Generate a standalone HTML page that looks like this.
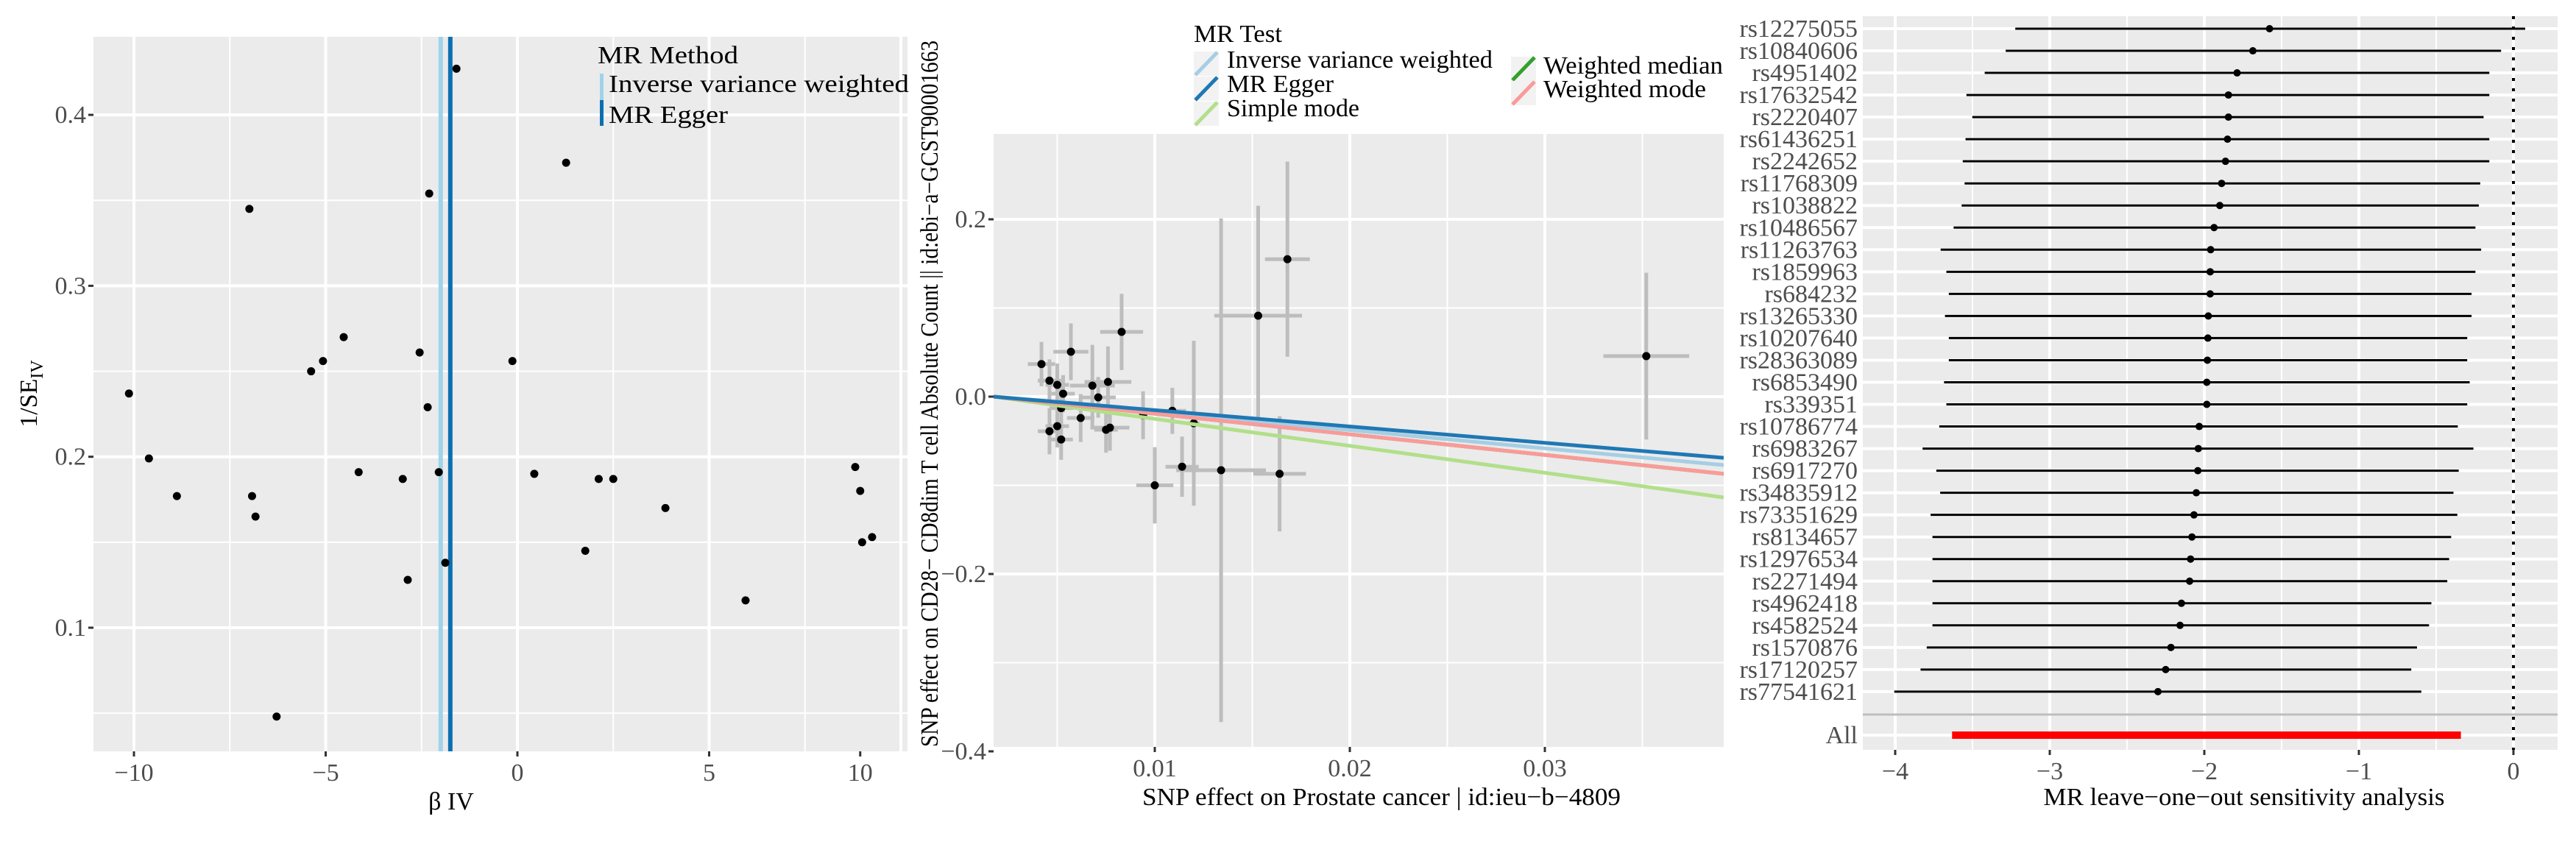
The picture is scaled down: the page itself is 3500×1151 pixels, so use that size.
<!DOCTYPE html>
<html><head><meta charset="utf-8">
<style>
html,body{margin:0;padding:0;background:#fff;}
svg{display:block;font-family:"Liberation Serif",serif;}
.tick{fill:#4d4d4d;font-size:34px;}
.ttl{fill:#000;font-size:34px;}
</style></head>
<body>
<svg id="fig" width="3500" height="1151" viewBox="0 0 3500 1151" xmlns="http://www.w3.org/2000/svg">
<g id="p1"></g>
<g id="p2"></g>
<g id="p3"></g>
</svg>
<script>
// ---------- Panel 1: funnel plot data ----------
const funnelBeta = [-1.59,1.27,-2.30,-6.99,-4.53,-2.55,-0.13,-5.07,-5.38,-10.13,-2.34,-9.61,-4.14,-2.05,0.44,-2.99,2.12,2.50,8.81,-8.88,-6.92,-6.83,8.94,3.86,9.25,8.99,1.77,-1.88,-2.86,5.95,-6.28];
const funnelInvSE = [0.427,0.372,0.354,0.345,0.270,0.261,0.256,0.256,0.250,0.237,0.229,0.199,0.191,0.191,0.190,0.187,0.187,0.187,0.194,0.177,0.177,0.165,0.180,0.170,0.153,0.150,0.145,0.138,0.128,0.116,0.048];
const funnelLineBeta = [-2.0,-1.75];
const funnelLineNames = ["Inverse variance weighted","MR Egger"];
const funnelXTicks = [-10,-5,0,5,10];
const funnelYTicks = [0.1,0.2,0.3,0.4];

// ---------- Panel 2: scatter data ----------
const snpExp = [0.00419,0.0046,0.0050,0.0053,0.0057,0.0068,0.0071,0.0076,0.0083,0.0062,0.0046,0.0050,0.0052,0.0075,0.0077,0.0052,0.0109,0.0100,0.0114,0.0120,0.0134,0.0153,0.0168,0.0164,0.0352,0.0094];
const snpOut = [0.0367,0.018,0.0133,0.0033,0.0506,0.0124,-0.0008,0.0166,0.073,-0.0241,-0.039,-0.0333,-0.0483,-0.0373,-0.035,-0.013,-0.016,-0.100,-0.079,-0.030,-0.083,0.0913,0.155,-0.087,0.0457,-0.021];
const snpOutSE = [0.025,0.024,0.024,0.021,0.032,0.046,0.023,0.040,0.043,0.027,0.026,0.024,0.023,0.026,0.026,0.024,0.026,0.043,0.034,0.093,0.284,0.124,0.110,0.065,0.094,0.027];
const snpExpSE = [0.0007,0.0006,0.0006,0.0006,0.0009,0.00115,0.0009,0.0012,0.0011,0.0007,0.0006,0.0006,0.0006,0.0006,0.001,0.0006,0.0007,0.00095,0.00085,0.0003,0.0023,0.00225,0.00115,0.00135,0.0022,0.0002];
const mrSlopes = [-1.97,-1.76,-2.90,-2.22,-2.22];
const mrNames = ["Inverse variance weighted","MR Egger","Simple mode","Weighted median","Weighted mode"];
const scatterXTicks = [0.01,0.02,0.03];
const scatterYTicks = [-0.4,-0.2,0.0,0.2];

// ---------- Panel 3: leave-one-out data ----------
const looSNPs = ["rs12275055","rs10840606","rs4951402","rs17632542","rs2220407","rs61436251","rs2242652","rs11768309","rs1038822","rs10486567","rs11263763","rs1859963","rs684232","rs13265330","rs10207640","rs28363089","rs6853490","rs339351","rs10786774","rs6983267","rs6917270","rs34835912","rs73351629","rs8134657","rs12976534","rs2271494","rs4962418","rs4582524","rs1570876","rs17120257","rs77541621"];
const looEst = [-1.578,-1.686,-1.788,-1.844,-1.844,-1.850,-1.863,-1.888,-1.900,-1.937,-1.959,-1.962,-1.962,-1.974,-1.977,-1.980,-1.984,-1.984,-2.033,-2.039,-2.042,-2.052,-2.067,-2.080,-2.089,-2.095,-2.148,-2.157,-2.216,-2.250,-2.300];
const looLo = [-3.223,-3.285,-3.421,-3.539,-3.501,-3.545,-3.563,-3.551,-3.570,-3.622,-3.706,-3.669,-3.653,-3.678,-3.653,-3.653,-3.684,-3.669,-3.715,-3.823,-3.734,-3.709,-3.771,-3.759,-3.759,-3.759,-3.759,-3.759,-3.796,-3.836,-4.006];
const looHi = [0.076,-0.080,-0.156,-0.156,-0.193,-0.156,-0.156,-0.215,-0.224,-0.246,-0.209,-0.246,-0.271,-0.271,-0.299,-0.299,-0.283,-0.299,-0.360,-0.259,-0.354,-0.388,-0.363,-0.403,-0.416,-0.428,-0.531,-0.546,-0.624,-0.661,-0.596];
const looAll = [-1.99,-3.632,-0.340];
const looXTicks = [-4,-3,-2,-1,0];

const NS="http://www.w3.org/2000/svg";
function mk(parent,tag,attrs,text){const e=document.createElementNS(NS,tag);for(const k in attrs)e.setAttribute(k,attrs[k]);if(text!==undefined)e.textContent=text;parent.appendChild(e);return e;}

// ===== Panel 1 =====
(function(){
const g=document.getElementById('p1');
const L=127,R=1233,T=50,B=1021;
const x=b=>703+52.1*b, y=v=>853-(v-0.1)*2323;
const bg=mk(g,'rect',{x:L,y:T,width:R-L,height:B-T,fill:'#ebebeb'});


[0.05,0.15,0.25,0.35].forEach(v=>mk(g,'line',{x1:L,x2:R,y1:y(v),y2:y(v),stroke:'#fff','stroke-width':2}));
[-7.5,-2.5,2.5,7.5].forEach(v=>mk(g,'line',{x1:x(v),x2:x(v),y1:T,y2:B,stroke:'#fff','stroke-width':2}));
funnelYTicks.forEach(v=>{mk(g,'line',{x1:L,x2:R,y1:y(v),y2:y(v),stroke:'#fff','stroke-width':4});
 mk(g,'line',{x1:L-7,x2:L,y1:y(v),y2:y(v),stroke:'#333','stroke-width':3});
 const t=mk(g,'text',{x:L-10,y:y(v)+11,'text-anchor':'end',class:'tick'},v.toFixed(1));
 
 });
funnelXTicks.forEach(v=>{mk(g,'line',{x1:x(v),x2:x(v),y1:T,y2:B,stroke:'#fff','stroke-width':4});
 const px = v===10 ? x(8.94) : x(v);
 mk(g,'line',{x1:px,x2:px,y1:B,y2:B+7,stroke:'#333','stroke-width':3});
 const t=mk(g,'text',{x:px,y:B+40,'text-anchor':'middle',class:'tick'},v<0?'\u2212'+Math.abs(v):String(v));
 
 });
const cols=['#9ecae1','#1f78b4'];
funnelLineBeta.forEach((b,i)=>{const l=mk(g,'line',{x1:x(b),x2:x(b),y1:T,y2:B,stroke:i?'#0b6fb0':'#9fd3ea','stroke-width':6});
 
 });
funnelBeta.forEach((b,i)=>{const c=mk(g,'circle',{cx:x(b),cy:y(funnelInvSE[i]),r:5.5,fill:'#000'});
 
 });
// legend
const lg=mk(g,'g',{});


mk(lg,'text',{x:812,y:86,class:'ttl',textLength:191,lengthAdjust:'spacingAndGlyphs'},'MR Method');
mk(lg,'rect',{x:815,y:100,width:5,height:36,fill:'#9fd3ea'});
mk(lg,'rect',{x:815,y:136,width:5,height:35,fill:'#0b6fb0'});
mk(lg,'text',{x:827,y:125,class:'ttl',textLength:408,lengthAdjust:'spacingAndGlyphs'},funnelLineNames[0]);
mk(lg,'text',{x:827,y:167,class:'ttl',textLength:162,lengthAdjust:'spacingAndGlyphs'},funnelLineNames[1]);
const xt=mk(g,'text',{x:613,y:1100,'text-anchor':'middle',class:'ttl'},'β IV');


const yt=mk(g,'text',{x:0,y:0,'text-anchor':'middle',class:'ttl',transform:'translate(50,535) rotate(-90)'});


yt.innerHTML='1/SE<tspan font-size="24" dy="8">IV</tspan>';
})();

// ===== Panel 2 =====
(function(){
const g=document.getElementById('p2');
const L=1350,R=2342,T=182,B=1015;
const x=v=>1569+(v-0.01)*26500, y=v=>539-v*1205;
const bg=mk(g,'rect',{x:L,y:T,width:R-L,height:B-T,fill:'#ebebeb'});


[-0.3,-0.1,0.1].forEach(v=>mk(g,'line',{x1:L,x2:R,y1:y(v),y2:y(v),stroke:'#fff','stroke-width':2}));
[0.005,0.015,0.025,0.035].forEach(v=>mk(g,'line',{x1:x(v),x2:x(v),y1:T,y2:B,stroke:'#fff','stroke-width':2}));
scatterYTicks.forEach(v=>{mk(g,'line',{x1:L,x2:R,y1:y(v),y2:y(v),stroke:'#fff','stroke-width':4});
 mk(g,'line',{x1:L-7,x2:L,y1:y(v),y2:y(v),stroke:'#333','stroke-width':3});
 const t=mk(g,'text',{x:L-10,y:y(v)+11,'text-anchor':'end',class:'tick'},(v<0?'\u2212':'')+Math.abs(v).toFixed(1));
 
 });
scatterXTicks.forEach(v=>{mk(g,'line',{x1:x(v),x2:x(v),y1:T,y2:B,stroke:'#fff','stroke-width':4});
 mk(g,'line',{x1:x(v),x2:x(v),y1:B,y2:B+7,stroke:'#333','stroke-width':3});
 const t=mk(g,'text',{x:x(v),y:B+40,'text-anchor':'middle',class:'tick'},v.toFixed(2));
 
 });
const cl=document.createElementNS(NS,'clipPath');cl.id='c2';mk(cl,'rect',{x:L,y:T,width:R-L,height:B-T});g.appendChild(cl);
const eg=mk(g,'g',{'clip-path':'url(#c2)'});
snpExp.forEach((v,i)=>{
 const a=mk(eg,'line',{x1:x(v),x2:x(v),y1:y(snpOut[i]-snpOutSE[i]),y2:y(snpOut[i]+snpOutSE[i]),stroke:'#bdbdbd','stroke-width':5});
 
 
 const b=mk(eg,'line',{x1:x(v-snpExpSE[i]),x2:x(v+snpExpSE[i]),y1:y(snpOut[i]),y2:y(snpOut[i]),stroke:'#bdbdbd','stroke-width':5});
 
 });
snpExp.forEach((v,i)=>{const c=mk(eg,'circle',{cx:x(v),cy:y(snpOut[i]),r:5.5,fill:'#000'});
 
 });
const lc=['#a6cee3','#1f78b4','#b2df8a','#33a02c','#fb9a99'];
const order=[2,3,0,4,1];
order.forEach(i=>{const x0=0.0,x1=0.0392;
 const l=mk(eg,'line',{x1:L,x2:R,y1:y(mrSlopes[i]*x0),y2:y(mrSlopes[i]*x1),stroke:lc[i],'stroke-width':5});
 
 });
// legend
const lg=mk(g,'g',{});


mk(lg,'text',{x:1622,y:57,class:'ttl',textLength:120,lengthAdjust:'spacingAndGlyphs'},'MR Test');
const keys=[[1622,70,0],[1622,104,1],[1622,138,2],[2053,77,3],[2053,110,4]];
const tl=[[1667,92,361],[1667,125,145],[1667,158,180],[2097,100,244],[2097,132,221]];
keys.forEach((k,j)=>{const i=k[2];
 mk(lg,'rect',{x:k[0],y:k[1],width:34,height:33,fill:'#f2f2f2'});
 mk(lg,'line',{x1:k[0]+2,y1:k[1]+32,x2:k[0]+32,y2:k[1]+1,stroke:lc[i],'stroke-width':5});
 mk(lg,'text',{x:tl[j][0],y:tl[j][1],class:'ttl',textLength:tl[j][2],lengthAdjust:'spacingAndGlyphs'},mrNames[i]);});
const xt=mk(g,'text',{x:1877,y:1094,'text-anchor':'middle',class:'ttl',textLength:650,lengthAdjust:'spacingAndGlyphs'},'SNP effect on Prostate cancer | id:ieu\u2212b\u22124809');


const yt=mk(g,'text',{x:0,y:0,'text-anchor':'middle',class:'ttl','font-size':'30',transform:'translate(1274,535) rotate(-90)',textLength:960,lengthAdjust:'spacingAndGlyphs'},'SNP effect on CD28\u2212 CD8dim T cell Absolute Count || id:ebi\u2212a\u2212GCST90001663');


})();

// ===== Panel 3 =====
(function(){
const g=document.getElementById('p3');
const L=2531,R=3475,T=22,B=1019;
const x=v=>3415+210*v, row=i=>39+i*30.03, allY=999;
const bg=mk(g,'rect',{x:L,y:T,width:R-L,height:B-T,fill:'#ebebeb'});


[-3.5,-2.5,-1.5,-0.5].forEach(v=>mk(g,'line',{x1:x(v),x2:x(v),y1:T,y2:B,stroke:'#fff','stroke-width':2}));
looXTicks.forEach(v=>{mk(g,'line',{x1:x(v),x2:x(v),y1:T,y2:B,stroke:'#fff','stroke-width':4});
 mk(g,'line',{x1:x(v),x2:x(v),y1:B,y2:B+7,stroke:'#333','stroke-width':3});
 const t=mk(g,'text',{x:x(v),y:B+40,'text-anchor':'middle',class:'tick'},v<0?'\u2212'+Math.abs(v):String(v));
 
 });
looSNPs.forEach((s,i)=>{mk(g,'line',{x1:L,x2:R,y1:row(i),y2:row(i),stroke:'#fff','stroke-width':4});
 const t=mk(g,'text',{x:L-7,y:row(i)+11,'text-anchor':'end',class:'tick','font-size':'33'},s);
 
 });
mk(g,'line',{x1:L,x2:R,y1:allY,y2:allY,stroke:'#fff','stroke-width':4});
mk(g,'line',{x1:L,x2:R,y1:971,y2:971,stroke:'#bebebe','stroke-width':3});
const at=mk(g,'text',{x:L-7,y:allY+11,'text-anchor':'end',class:'tick','font-size':'33'},'All');


const z=mk(g,'line',{x1:x(0),x2:x(0),y1:T,y2:B,stroke:'#000','stroke-width':4,'stroke-dasharray':'4 10'});


looSNPs.forEach((s,i)=>{
 const l=mk(g,'line',{x1:x(looLo[i]),x2:x(looHi[i]),y1:row(i),y2:row(i),stroke:'#000','stroke-width':3});
 
 
 const c=mk(g,'circle',{cx:x(looEst[i]),cy:row(i),r:5,fill:'#000'});
 
 });
const a=mk(g,'line',{x1:x(looAll[1]),x2:x(looAll[2]),y1:allY,y2:allY,stroke:'#ff0000','stroke-width':10});


const xt=mk(g,'text',{x:3049,y:1094,'text-anchor':'middle',class:'ttl',textLength:545,lengthAdjust:'spacingAndGlyphs'},'MR leave\u2212one\u2212out sensitivity analysis');


})();
</script>
</body></html>
